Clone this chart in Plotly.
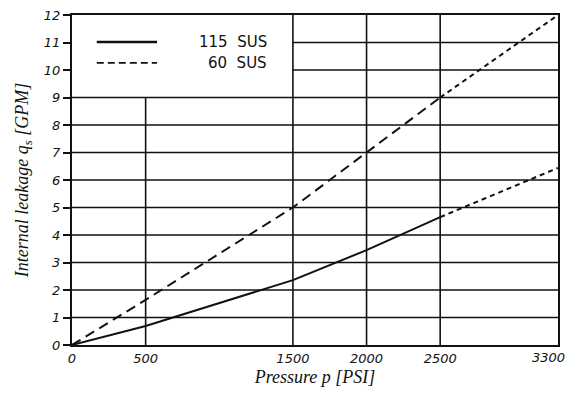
import plotly.graph_objects as go

# Measured leakage curves (GPM vs PSI)
pressure_115 = [0, 500, 1500, 2000, 2500]
leakage_115 = [0, 0.69, 2.36, 3.45, 4.65]
pressure_115_ext = [2500, 3300]
leakage_115_ext = [4.65, 6.44]

pressure_60 = [0, 500, 1500, 2000, 2500]
leakage_60 = [0, 1.64, 5.0, 7.0, 9.0]
pressure_60_ext = [2500, 3300]
leakage_60_ext = [9.0, 12.0]

x_ticks = [0, 500, 1500, 2000, 2500, 3300]
y_ticks = list(range(0, 13))
legend_labels = ["115  SUS", "60  SUS"]

X_MAX, Y_MAX = 3300, 12
INK = "#111111"
TICK_FONT = dict(family="DejaVu Sans", size=13, color=INK, style="italic")

# the last x label sits flush with the right edge, so it is drawn as an annotation
x_tick_text = [str(v) for v in x_ticks[:-1]] + [""]

fig = go.Figure()

# grid drawn as shapes so the legend corner stays clear
grid = []
for y in range(1, 12):
    x0 = 0 if y <= 9 else 1500
    grid.append(dict(type="line", xref="x", yref="y", x0=x0, x1=X_MAX, y0=y, y1=y,
                     line=dict(color=INK, width=1.6), layer="below"))
for x in [500, 1500, 2000, 2500]:
    y1 = 9 if x == 500 else Y_MAX
    grid.append(dict(type="line", xref="x", yref="y", x0=x, x1=x, y0=0, y1=y1,
                     line=dict(color=INK, width=1.6), layer="below"))

fig.add_trace(go.Scatter(x=pressure_115, y=leakage_115, mode="lines",
                         line=dict(color=INK, width=2), showlegend=False))
fig.add_trace(go.Scatter(x=pressure_115_ext, y=leakage_115_ext, mode="lines",
                         line=dict(color=INK, width=2, dash="5px,4px"), showlegend=False))
fig.add_trace(go.Scatter(x=pressure_60, y=leakage_60, mode="lines",
                         line=dict(color=INK, width=2, dash="10px,6px"), showlegend=False))
fig.add_trace(go.Scatter(x=pressure_60_ext, y=leakage_60_ext, mode="lines",
                         line=dict(color=INK, width=2, dash="5px,4px"), showlegend=False))

# legend key
key = [
    dict(type="line", xref="paper", yref="paper", x0=0.051, x1=0.175, y0=0.918, y1=0.918,
         line=dict(color=INK, width=2.4)),
    dict(type="line", xref="paper", yref="paper", x0=0.051, x1=0.175, y0=0.855, y1=0.855,
         line=dict(color=INK, width=1.6, dash="7px,4px")),
]
annotations = [
    dict(xref="paper", yref="paper", x=0.405, y=0.918, text=legend_labels[0],
         showarrow=False, xanchor="right", yanchor="middle",
         font=dict(family="DejaVu Sans", size=15, color=INK)),
    dict(xref="paper", yref="paper", x=0.405, y=0.855, text=legend_labels[1],
         showarrow=False, xanchor="right", yanchor="middle",
         font=dict(family="DejaVu Sans", size=15, color=INK)),
    dict(xref="x", yref="paper", x=x_ticks[-1], y=0, text=str(x_ticks[-1]),
         showarrow=False, xanchor="right", yanchor="top", xshift=9, yshift=-3,
         font=TICK_FONT),
]

fig.update_layout(
    width=570, height=400,
    margin=dict(l=72, r=12, t=15, b=55, autoexpand=False),
    paper_bgcolor="white", plot_bgcolor="white",
    shapes=grid + key,
    annotations=annotations,
    xaxis=dict(range=[0, X_MAX], tickvals=x_ticks, ticktext=x_tick_text,
               showgrid=False, zeroline=False, showline=True, mirror=True,
               linecolor=INK, linewidth=2.2, ticks="", automargin=False,
               tickfont=TICK_FONT,
               title=dict(text="Pressure p [PSI]", standoff=6,
                          font=dict(family="Liberation Serif", size=18, color=INK, style="italic"))),
    yaxis=dict(range=[0, Y_MAX], tickvals=y_ticks, ticktext=[str(v) for v in y_ticks],
               showgrid=False, zeroline=False, showline=True, mirror=True,
               linecolor=INK, linewidth=2.2, ticks="outside", ticklen=7, tickwidth=1.5,
               tickcolor=INK, automargin=False,
               tickfont=TICK_FONT,
               title=dict(text="Internal leakage q<sub>s</sub> [GPM]", standoff=10,
                          font=dict(family="Liberation Serif", size=18, color=INK, style="italic"))),
)

fig.write_html("out.html")
